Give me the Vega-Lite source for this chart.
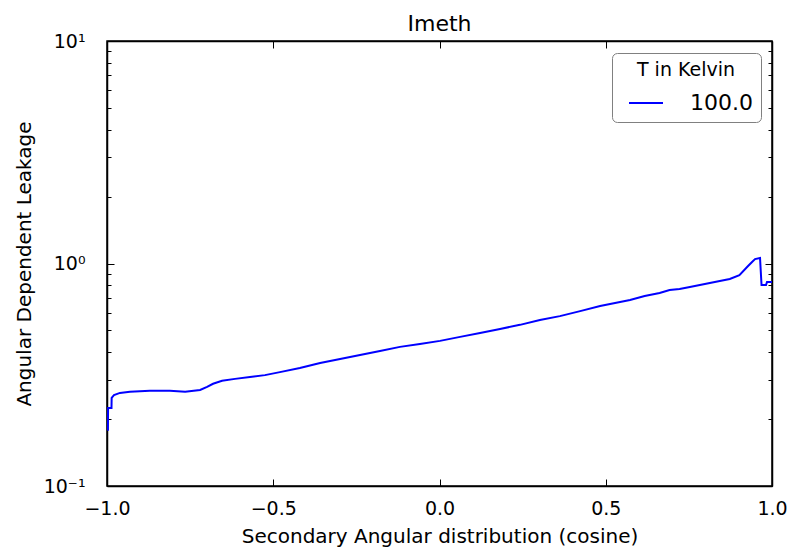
{
  "$schema": "https://vega.github.io/schema/vega-lite/v6.json",
  "width": 665,
  "height": 445,
  "autosize": "none",
  "padding": {"left": 107, "top": 41, "right": 24, "bottom": 68},
  "background": "white",
  "config": {
    "font": "DejaVu Sans",
    "view": {"stroke": "black", "strokeWidth": 1.5},
    "axis": {
      "domainColor": "black",
      "domainWidth": 1.5,
      "tickColor": "black",
      "tickWidth": 1,
      "labelColor": "black",
      "titleColor": "black",
      "labelFont": "DejaVu Sans",
      "titleFont": "DejaVu Sans",
      "labelFontSize": 19,
      "titleFontSize": 20,
      "titleFontWeight": "normal",
      "grid": false
    }
  },
  "title": {"text": "Imeth", "fontSize": 22, "fontWeight": "normal", "color": "black", "font": "DejaVu Sans", "offset": -4},
  "data": {
    "values": [
      {"cos": -0.9995, "leak": 0.179},
      {"cos": -0.9972, "leak": 0.179},
      {"cos": -0.9968, "leak": 0.224},
      {"cos": -0.9865, "leak": 0.224},
      {"cos": -0.986, "leak": 0.249},
      {"cos": -0.979, "leak": 0.256},
      {"cos": -0.961, "leak": 0.262},
      {"cos": -0.931, "leak": 0.265},
      {"cos": -0.871, "leak": 0.268},
      {"cos": -0.811, "leak": 0.268},
      {"cos": -0.765, "leak": 0.265},
      {"cos": -0.72, "leak": 0.27},
      {"cos": -0.699, "leak": 0.279},
      {"cos": -0.681, "leak": 0.288},
      {"cos": -0.654, "leak": 0.297},
      {"cos": -0.615, "leak": 0.303},
      {"cos": -0.57, "leak": 0.309},
      {"cos": -0.525, "leak": 0.315},
      {"cos": -0.48, "leak": 0.325},
      {"cos": -0.42, "leak": 0.339},
      {"cos": -0.359, "leak": 0.357},
      {"cos": -0.299, "leak": 0.372},
      {"cos": -0.239, "leak": 0.388},
      {"cos": -0.179, "leak": 0.404},
      {"cos": -0.119, "leak": 0.422},
      {"cos": -0.059, "leak": 0.435},
      {"cos": 0.0015, "leak": 0.449},
      {"cos": 0.062, "leak": 0.468},
      {"cos": 0.122, "leak": 0.487},
      {"cos": 0.182, "leak": 0.508},
      {"cos": 0.242, "leak": 0.53},
      {"cos": 0.302, "leak": 0.557},
      {"cos": 0.362, "leak": 0.58},
      {"cos": 0.423, "leak": 0.611},
      {"cos": 0.483, "leak": 0.644},
      {"cos": 0.543, "leak": 0.671},
      {"cos": 0.573, "leak": 0.686},
      {"cos": 0.617, "leak": 0.714},
      {"cos": 0.662, "leak": 0.737},
      {"cos": 0.692, "leak": 0.76},
      {"cos": 0.722, "leak": 0.768},
      {"cos": 0.753, "leak": 0.784},
      {"cos": 0.783, "leak": 0.8},
      {"cos": 0.813, "leak": 0.818},
      {"cos": 0.843, "leak": 0.835},
      {"cos": 0.873, "leak": 0.852},
      {"cos": 0.902, "leak": 0.887},
      {"cos": 0.928, "leak": 0.974},
      {"cos": 0.94, "leak": 1.016},
      {"cos": 0.949, "leak": 1.047},
      {"cos": 0.964, "leak": 1.058},
      {"cos": 0.9685, "leak": 0.8},
      {"cos": 0.982, "leak": 0.8},
      {"cos": 0.985, "leak": 0.826},
      {"cos": 1.0, "leak": 0.826}
    ]
  },
  "layer": [
    {
      "mark": {"type": "line", "interpolate": "linear", "color": "blue", "strokeWidth": 2, "clip": true},
      "encoding": {
        "x": {
          "field": "cos", "type": "quantitative",
          "scale": {"domain": [-1, 1], "nice": false, "zero": false},
          "axis": {
            "orient": "bottom",
            "title": "Secondary Angular distribution (cosine)",
            "values": [-1, -0.5, 0, 0.5, 1],
            "format": ".1f",
            "tickSize": -7,
            "labelPadding": 20,
            "titlePadding": 8,
            "labelFlush": false
          }
        },
        "y": {
          "field": "leak", "type": "quantitative",
          "scale": {"type": "log", "domain": [0.1, 10], "nice": false},
          "axis": {
            "orient": "left",
            "title": "Angular Dependent Leakage",
            "values": [0.1, 0.2, 0.3, 0.4, 0.5, 0.6, 0.7, 0.8, 0.9, 1, 2, 3, 4, 5, 6, 7, 8, 9, 10],
            "labelExpr": "abs(datum.value-10)<1e-6 ? '10¹' : abs(datum.value-1)<1e-6 ? '10⁰' : abs(datum.value-0.1)<1e-6 ? '10⁻¹' : ''",
            "tickSize": {"condition": {"test": "abs(datum.value-10)<1e-6 || abs(datum.value-1)<1e-6 || abs(datum.value-0.1)<1e-6", "value": -7}, "value": -4},
            "labelPadding": 29,
            "titlePadding": 9,
            "labelFlush": false,
            "labelOverlap": false
          }
        },
        "color": {
          "datum": "100.0",
          "type": "nominal",
          "scale": {"range": ["blue"]},
          "legend": {
            "title": "T in Kelvin",
            "orient": "none",
            "legendX": 505,
            "legendY": 12,
            "strokeColor": "#808080",
            "cornerRadius": 5,
            "fillColor": "white",
            "padding": 8,
            "titleFontSize": 19,
            "titleFontWeight": "normal",
            "titleColor": "black",
            "titleAnchor": "middle",
            "titlePadding": 5,
            "labelFontSize": 22,
            "labelColor": "black",
            "symbolType": "stroke",
            "symbolSize": 1156,
            "symbolStrokeWidth": 2,
            "labelOffset": 26,
            "symbolOffset": 8
          }
        }
      }
    },
    {
      "mark": {"type": "line", "opacity": 0},
      "encoding": {
        "x": {
          "field": "cos", "type": "quantitative",
          "scale": {"domain": [-1, 1], "nice": false, "zero": false},
          "axis": {"orient": "top", "title": null, "labels": false, "values": [-1, -0.5, 0, 0.5, 1], "tickSize": -7}
        },
        "y": {
          "field": "leak", "type": "quantitative",
          "scale": {"type": "log", "domain": [0.1, 10], "nice": false},
          "axis": {
            "orient": "right", "title": null, "labels": false,
            "values": [0.1, 0.2, 0.3, 0.4, 0.5, 0.6, 0.7, 0.8, 0.9, 1, 2, 3, 4, 5, 6, 7, 8, 9, 10],
            "tickSize": {"condition": {"test": "abs(datum.value-10)<1e-6 || abs(datum.value-1)<1e-6 || abs(datum.value-0.1)<1e-6", "value": -7}, "value": -4}
          }
        }
      }
    }
  ],
  "resolve": {"axis": {"x": "independent", "y": "independent"}}
}
